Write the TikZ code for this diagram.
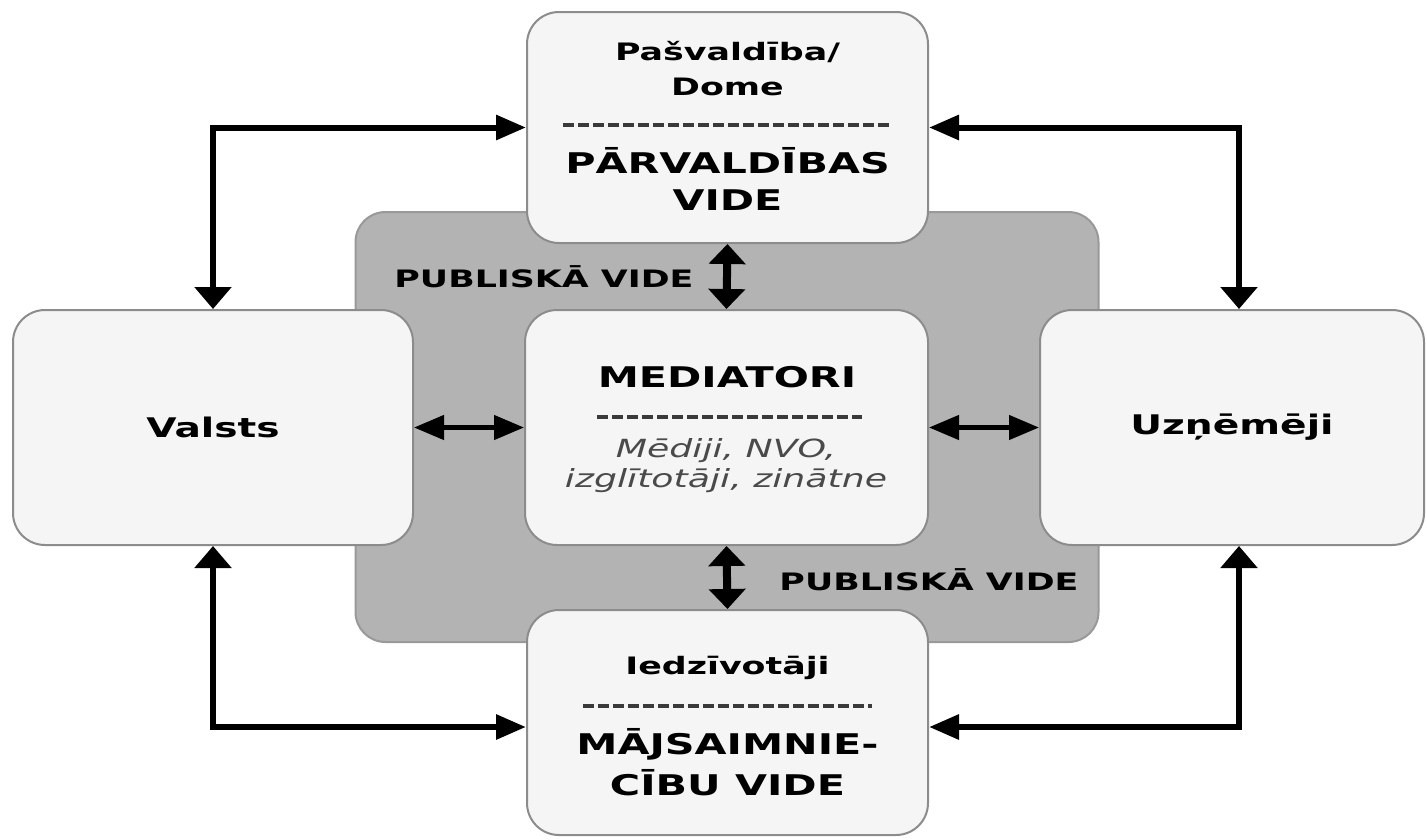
\documentclass[tikz,border=0pt]{standalone}
\usepackage{fontspec}
\setmainfont{DejaVu Sans}[FakeStretch=1.45]
\usetikzlibrary{arrows.meta}
\definecolor{boxfill}{HTML}{F5F5F5}
\definecolor{boxline}{HTML}{8C8C8C}
\definecolor{pubfill}{HTML}{B3B3B3}
\definecolor{publine}{HTML}{999999}
\definecolor{septone}{HTML}{3A3A3A}
\definecolor{ittone}{HTML}{4A4A4A}
\begin{document}
\begin{tikzpicture}[x=1pt,y=-1pt,
  box/.style={draw=boxline, line width=2pt, fill=boxfill, rounded corners=32pt, inner sep=0pt},
  pubarea/.style={draw=publine, line width=2pt, fill=pubfill, rounded corners=30pt, inner sep=0pt},
  small/.style={font=\bfseries\fontsize{24}{28}\selectfont, inner sep=0pt},
  big/.style={font=\bfseries\fontsize{28.5}{32}\selectfont, inner sep=0pt},
  ital/.style={font=\itshape\fontsize{25}{28}\selectfont, text=ittone, inner sep=0pt},
  publbl/.style={font=\bfseries\fontsize{24}{28}\selectfont, inner sep=0pt},
  sepline/.style={draw=septone, line width=4pt, dash pattern=on 11pt off 4pt},
  hv/.style={draw=black, line width=6pt, {Triangle[length=30pt,width=24pt]}-{Triangle[length=22pt,width=36pt]}},
  vh/.style={draw=black, line width=6pt, {Triangle[length=22pt,width=36pt]}-{Triangle[length=30pt,width=24pt]}},
  dbl/.style={draw=black, line width=4.5pt, {Triangle[length=30pt,width=24pt]}-{Triangle[length=30pt,width=24pt]}},
  vdbl/.style={draw=black, line width=8pt, {Triangle[length=20pt,width=36pt]}-{Triangle[length=20pt,width=36pt]}}
]
\useasboundingbox (0,0) rectangle (1427,839);
\fill[white] (0,0) rectangle (1427,839);

% public area
\node[pubarea, minimum width=743pt, minimum height=430pt] (pub) at (727,427) {};

% boxes
\node[box, minimum width=401pt, minimum height=231pt] (top) at (727.5,127.5) {};
\node[box, minimum width=403pt, minimum height=235pt] (med) at (726.5,427.5) {};
\node[box, minimum width=401pt, minimum height=225pt] (bot) at (727.5,722.5) {};
\node[box, minimum width=400pt, minimum height=235pt, font=\bfseries\fontsize{27}{32}\selectfont] (valsts) at (213,427.5) {Valsts};
\node[box, minimum width=384pt, minimum height=235pt, font=\bfseries\fontsize{27}{32}\selectfont] (uzn) at (1232,427.5) {Uzņēmēji};

% top box text
\node[small] (pas) at (727.5,52) {Pašvaldība/};
\node[small] (dome) at (727.5,87) {Dome};
\draw[sepline] (563,125) -- (890,125);
\node[big] (parv) at (727.5,161) {PĀRVALDĪBAS};
\node[big] (vide1) at (727.5,200) {VIDE};

% mediator text
\node[big] (medt) at (727,377) {MEDIATORI};
\draw[sepline] (597,417) -- (862,417);
\node[ital] (medi1) at (726,451) {Mēdiji, NVO,};
\node[ital] (medi2) at (726,481) {izglītotāji, zinātne};

% bottom box text
\node[small] (iedz) at (727.5,668) {Iedzīvotāji};
\draw[sepline] (583,706) -- (872,706);
\node[big] (majs) at (727.5,744) {MĀJSAIMNIE-};
\node[big] (cibu) at (727.5,783) {CĪBU VIDE};

% public labels
\node[publbl] (pub1) at (544,277) {PUBLISKĀ VIDE};
\node[publbl] (pub2) at (929,580) {PUBLISKĀ VIDE};

% outer connectors
\draw[hv] (top.west) -| (valsts.north);
\draw[hv] (top.east) -| ([xshift=7pt]uzn.north);
\draw[vh] (valsts.south) |- ([yshift=-4.5pt]bot.west);
\draw[vh] ([xshift=7pt]uzn.south) |- ([yshift=-4.5pt]bot.east);

% inner connectors
\draw[dbl] (valsts.east) -- (med.west);
\draw[dbl] (med.east) -- (uzn.west);
\draw[vdbl] (top.south) -- (med.north);
\draw[vdbl] (med.south) -- (bot.north);
\end{tikzpicture}
\end{document}
